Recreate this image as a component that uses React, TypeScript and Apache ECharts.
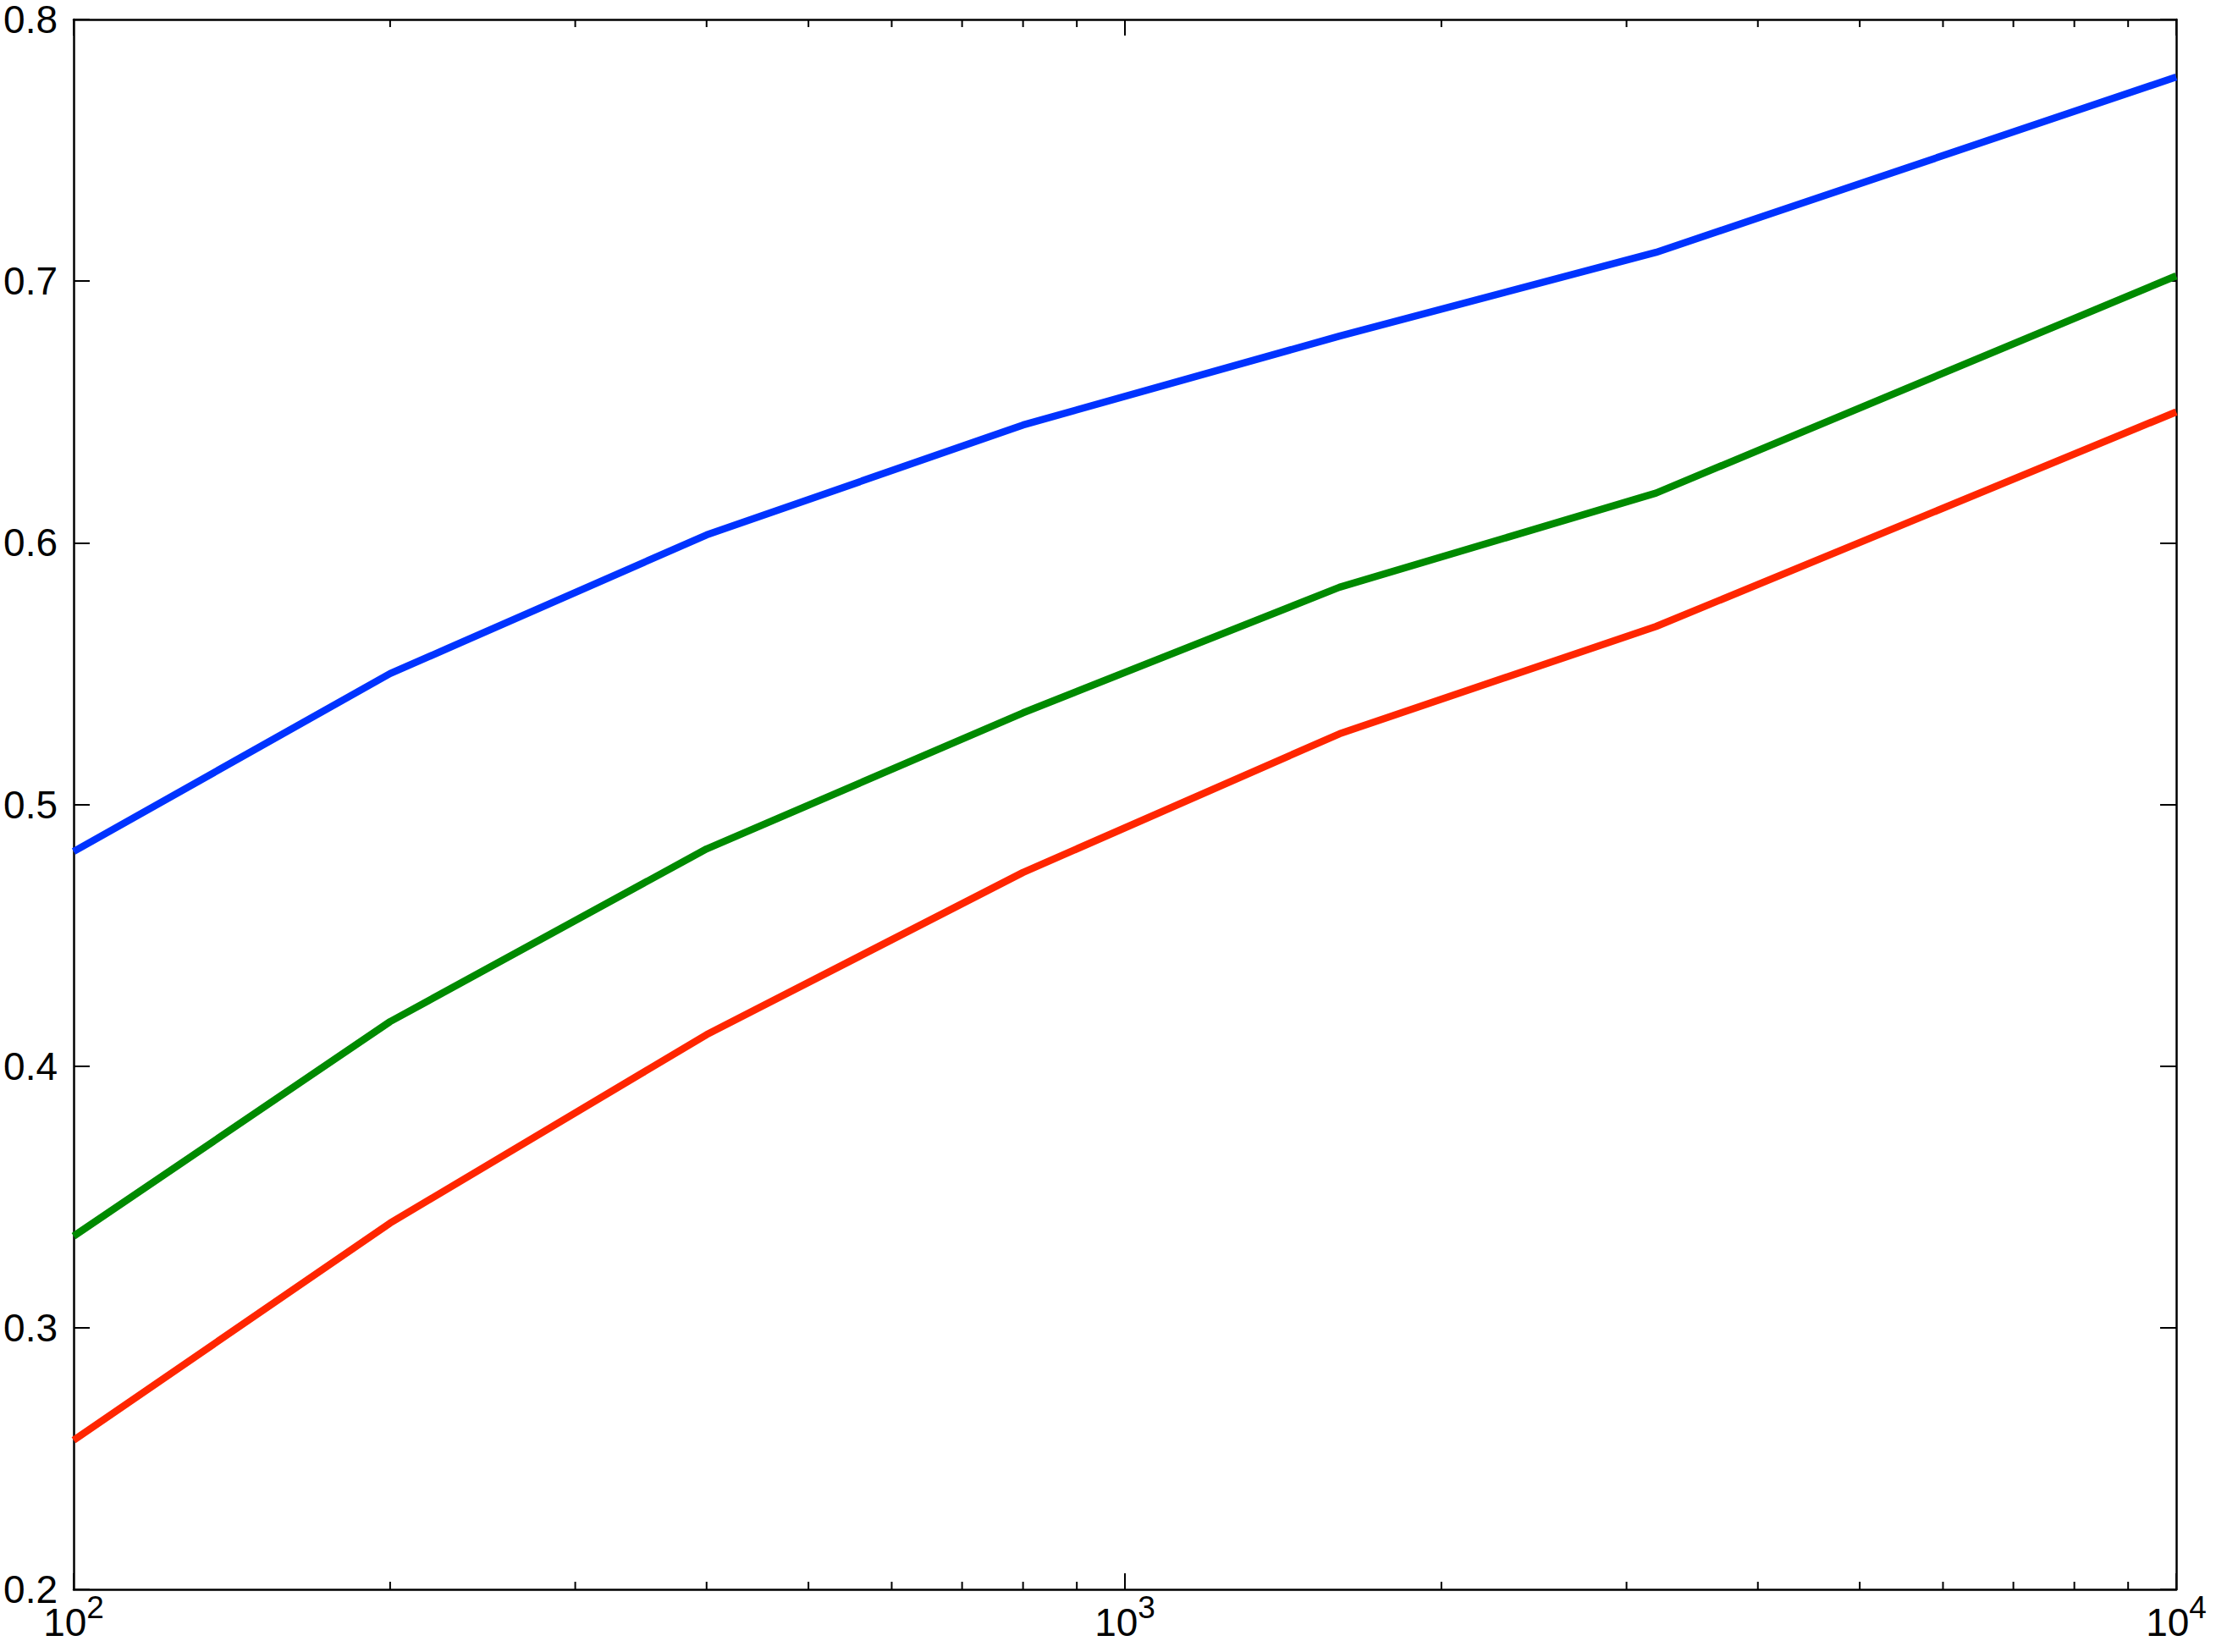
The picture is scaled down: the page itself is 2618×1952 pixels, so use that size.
import React, { useEffect, useRef } from 'react';
import * as echarts from 'echarts';

const xValues = [100, 200, 400, 800, 1600, 3200, 10000];
const blueValues = [0.482, 0.550, 0.603, 0.645, 0.679, 0.711, 0.778];
const greenValues = [0.335, 0.417, 0.483, 0.535, 0.583, 0.619, 0.702];
const redValues = [0.257, 0.340, 0.412, 0.474, 0.527, 0.568, 0.650];
const minorTickValues = [200, 300, 400, 500, 600, 700, 800, 900, 2000, 3000, 4000, 5000, 6000, 7000, 8000, 9000];
const xMin = 100;
const xMax = 10000;
const yMin = 0.2;
const yMax = 0.8;
const yStep = 0.1;

const FONT = '"Liberation Sans", Arial, Helvetica, sans-serif';

export default function App() {
  const ref = useRef<HTMLDivElement>(null);
  useEffect(() => {
    document.body.style.margin = '0';
    if (!ref.current) return;
    const chart = echarts.init(ref.current, null, { renderer: 'svg' });
    const axisLine = { show: true, onZero: false, lineStyle: { color: '#000', width: 2.5 } };
    const tick = { show: true, inside: true, length: 19, lineStyle: { color: '#000', width: 2 } };
    const mk = (vals: number[]) => xValues.map((x, i) => [x, vals[i]]);
    const option: any = {
      animation: false,
      backgroundColor: '#fff',
      grid: { left: 87, right: 47, top: 23, bottom: 74, containLabel: false },
      xAxis: [
        {
          type: 'log', logBase: 10, min: xMin, max: xMax, position: 'bottom',
          axisLine, axisTick: tick, splitLine: { show: false },
          axisLabel: {
            margin: 3,
            formatter: (v: number) => `{b|10}{s|${Math.round(Math.log10(v))}}`,
            rich: {
              b: { fontSize: 46, fontFamily: FONT, color: '#000', lineHeight: 72 },
              s: { fontSize: 37, fontFamily: FONT, color: '#000', lineHeight: 37, verticalAlign: 'top' },
            },
          },
        },
        {
          type: 'log', logBase: 10, min: xMin, max: xMax, position: 'top',
          axisLine, axisTick: tick, splitLine: { show: false }, axisLabel: { show: false },
        },
      ],
      yAxis: [
        {
          type: 'value', min: yMin, max: yMax, interval: yStep, position: 'left',
          axisLine, axisTick: tick, splitLine: { show: false },
          axisLabel: { margin: 19, fontSize: 46, lineHeight: 40, fontFamily: FONT, color: '#000', formatter: (v: number) => v.toFixed(1) },
        },
        {
          type: 'value', min: yMin, max: yMax, interval: yStep, position: 'right',
          axisLine, axisTick: tick, splitLine: { show: false }, axisLabel: { show: false },
        },
      ],
      series: [
        {
          type: 'custom', xAxisIndex: 0, yAxisIndex: 0, silent: true,
          data: minorTickValues.map((v) => [v, yMin]),
          renderItem: (params: any, api: any) => {
            const x = api.value(0);
            const b = api.coord([x, yMin]);
            const t = api.coord([x, yMax]);
            const st = { stroke: '#000', lineWidth: 2 };
            return {
              type: 'group',
              children: [
                { type: 'line', shape: { x1: b[0], y1: b[1], x2: b[0], y2: b[1] - 9 }, style: st },
                { type: 'line', shape: { x1: t[0], y1: t[1], x2: t[0], y2: t[1] + 9 }, style: st },
              ],
            };
          },
        },
        { type: 'line', data: mk(blueValues), symbol: 'none', lineStyle: { color: '#0033ff', width: 8.5 }, itemStyle: { color: '#0033ff' } },
        { type: 'line', data: mk(greenValues), symbol: 'none', lineStyle: { color: '#008a00', width: 8.5 }, itemStyle: { color: '#008a00' } },
        { type: 'line', data: mk(redValues), symbol: 'none', lineStyle: { color: '#ff2600', width: 8.5 }, itemStyle: { color: '#ff2600' } },
      ],
    };
    chart.setOption(option);
    return () => chart.dispose();
  }, []);
  return <div ref={ref} style={{ width: 2618, height: 1952 }} />;
}
